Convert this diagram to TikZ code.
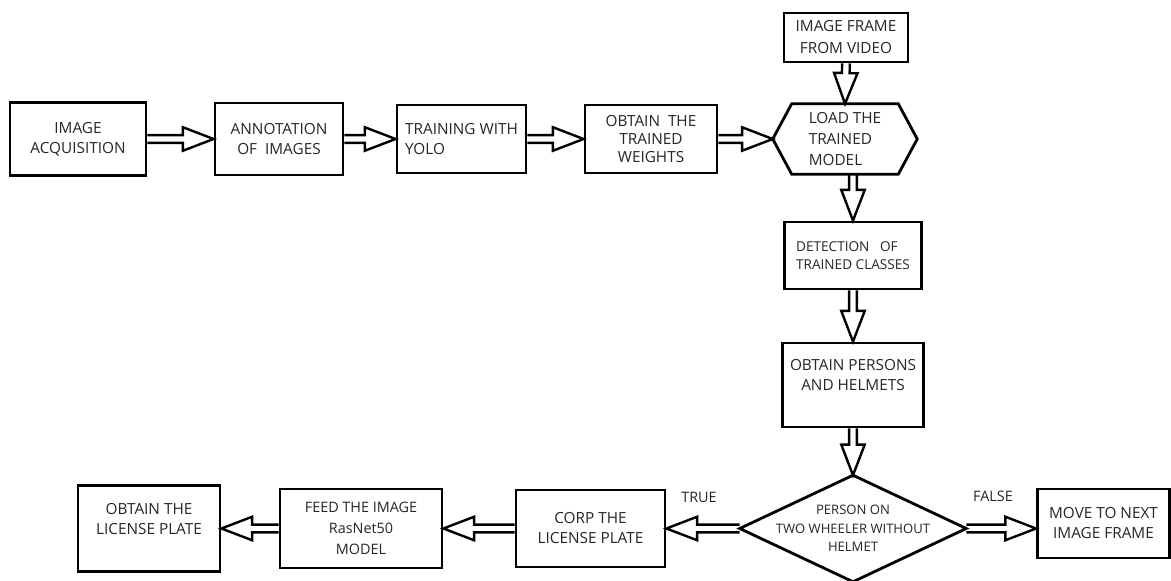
\documentclass[tikz,border=0pt]{standalone}
\usepackage{fontspec}
\setmainfont{Open Sans}
\usetikzlibrary{calc}

\tikzset{
  box/.style={draw, line width=2.1pt, inner sep=0pt, align=center, text=black!85,
              font=\fontsize{11.5}{15}\selectfont},
  plain/.style={inner sep=0pt, align=center, text=black!85, font=\fontsize{11.5}{15}\selectfont},
  outline/.style={line width=2.1pt, line join=miter},
  hollow/.style={line width=1.8pt, line join=miter},
  smalltext/.style={font=\fontsize{10.2}{13.5}\selectfont},
  tinytext/.style={font=\fontsize{9.8}{14}\selectfont},
  caseword/.style={inner sep=0pt, text=black!85, font=\fontsize{10.8}{13}\selectfont}
}

% hollow block arrow from #1 to #2
\newcommand{\hollowarrow}[2]{%
  \draw[hollow] ($(#1)!2.9pt!90:(#2)$)
    -- ($($(#2)!23pt!(#1)$)!2.9pt!90:(#2)$)
    -- ($($(#2)!23pt!(#1)$)!8.8pt!90:(#2)$)
    -- (#2)
    -- ($($(#2)!23pt!(#1)$)!8.8pt!-90:(#2)$)
    -- ($($(#2)!23pt!(#1)$)!2.9pt!-90:(#2)$)
    -- ($(#1)!2.9pt!-90:(#2)$);}

\begin{document}
\begin{tikzpicture}[x=0.75pt, y=-0.75pt]

\fill[white] (0,0) rectangle (1171,581);
\useasboundingbox (0,0) rectangle (1171,581);

%%%%------------Top row----------------%%
\node[box, minimum width=102pt, minimum height=54.75pt] (acq) at (78,139) {IMAGE\\ACQUISITION};
\node[box, minimum width=96pt, minimum height=54pt] (ann) at (279,139) {ANNOTATION\\OF~ IMAGES};
\node[box, align=left, minimum width=96.75pt, minimum height=51pt] (yolo) at (461.5,139) {TRAINING WITH\\YOLO};
\node[box, font=\fontsize{11.5}{13.2}\selectfont, minimum width=99pt, minimum height=51pt] (wts) at (651,139) {OBTAIN~ THE\\TRAINED\\WEIGHTS};

%%%%------------Model----------------%%
\node[box, font=\fontsize{11.5}{16.5}\selectfont, minimum width=93pt, minimum height=36.75pt] (frame) at (846,37.5) {IMAGE FRAME\\FROM VIDEO};
\node[plain, align=left, font=\fontsize{11.5}{16}\selectfont, minimum width=108pt, minimum height=52.5pt] (load) at (845,139) {LOAD THE\\TRAINED\\MODEL};
\draw[outline] (load.west) -- ([xshift=14.25pt]load.north west) -- ([xshift=-14.25pt]load.north east)
  -- (load.east) -- ([xshift=-14.25pt]load.south east) -- ([xshift=14.25pt]load.south west) -- cycle;

%%%%------------Detection----------------%%
\node[box, smalltext, align=left, minimum width=102.75pt, minimum height=50.25pt] (det) at (853,255.5) {DETECTION~~ OF\\TRAINED CLASSES};
\node[box, minimum width=105.75pt, minimum height=63pt] (pers) at (853,385) {OBTAIN PERSONS\\AND HELMETS\\\mbox{}};

%%%%------------Decision----------------%%
\node[plain, tinytext, minimum width=169.5pt, minimum height=79.5pt] (dec) at (853,528.5) {PERSON ON\\TWO WHEELER WITHOUT\\HELMET};
\draw[outline] (dec.north) -- (dec.east) -- (dec.south) -- (dec.west) -- cycle;
\node[box, minimum width=99pt, minimum height=51.75pt] (move) at (1103.5,523.5) {MOVE TO NEXT\\IMAGE FRAME};
\node[caseword] (false) at (993,496) {FALSE};
\node[caseword] (true) at (699,497) {TRUE};

%%%%------------Bottom row----------------%%
\node[box, minimum width=111.75pt, minimum height=57.75pt] (corp) at (590.5,528.5) {CORP THE\\LICENSE PLATE};
\node[box, font=\fontsize{10.8}{15.5}\selectfont, minimum width=121.5pt, minimum height=59.25pt] (feed) at (361,528.5) {FEED THE IMAGE\\RasNet50\\MODEL};
\node[box, minimum width=106.5pt, minimum height=64.5pt] (plate) at (149,528.5) {OBTAIN THE\\LICENSE PLATE\\\mbox{}};

%%%---------- Arrows ------------%%%
\hollowarrow{acq.east}{ann.west}
\hollowarrow{ann.east}{yolo.west}
\hollowarrow{yolo.east}{wts.west}
\hollowarrow{wts.east}{load.west}
\hollowarrow{frame.south}{load.north}
\coordinate (ls) at (load.south -| det.north);
\hollowarrow{ls}{det.north}
\hollowarrow{det.south}{pers.north}
\hollowarrow{pers.south}{dec.north}
\coordinate (mv) at (dec.east -| move.west);
\hollowarrow{dec.east}{mv}
\hollowarrow{dec.west}{corp.east}
\hollowarrow{corp.west}{feed.east}
\hollowarrow{feed.west}{plate.east}

\end{tikzpicture}
\end{document}
